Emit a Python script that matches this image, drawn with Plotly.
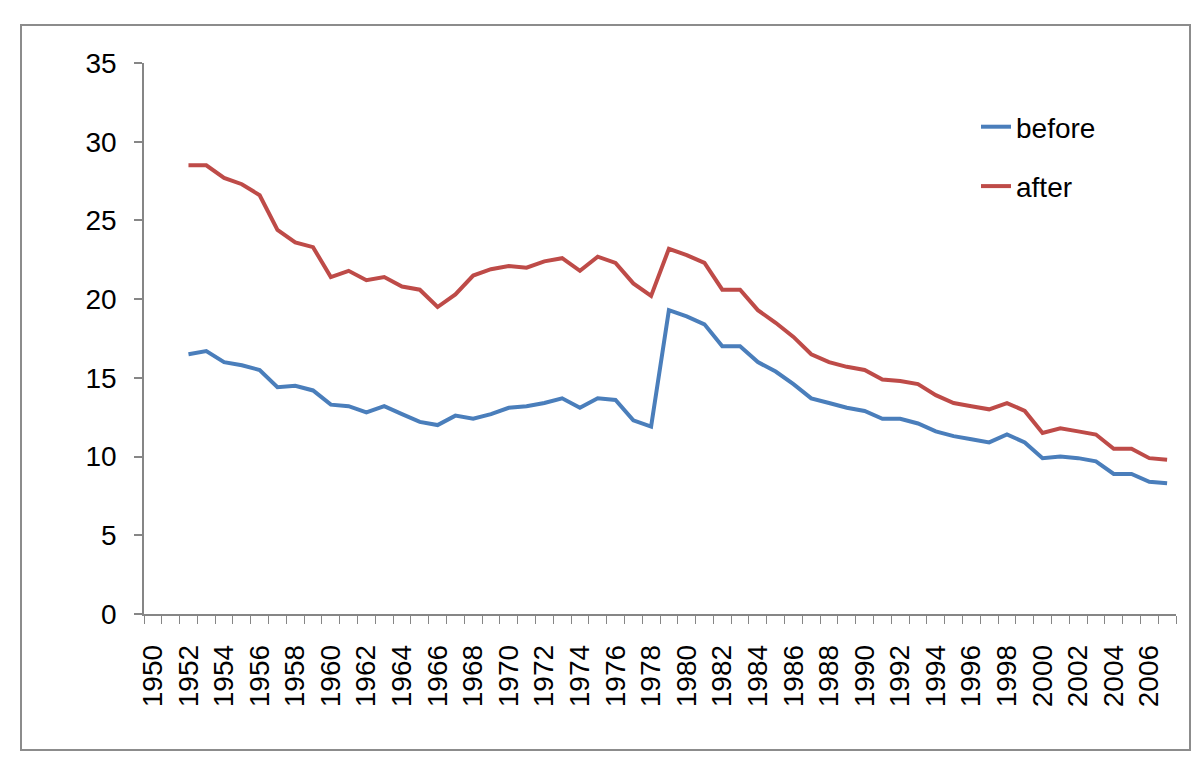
import plotly.graph_objects as go

years = list(range(1952, 2008))
before = [16.5, 16.7, 16.0, 15.8, 15.5, 14.4, 14.5, 14.2, 13.3, 13.2,
          12.8, 13.2, 12.7, 12.2, 12.0, 12.6, 12.4, 12.7, 13.1, 13.2,
          13.4, 13.7, 13.1, 13.7, 13.6, 12.3, 11.9, 19.3, 18.9, 18.4,
          17.0, 17.0, 16.0, 15.4, 14.6, 13.7, 13.4, 13.1, 12.9, 12.4,
          12.4, 12.1, 11.6, 11.3, 11.1, 10.9, 11.4, 10.9, 9.9, 10.0,
          9.9, 9.7, 8.9, 8.9, 8.4, 8.3]
after = [28.5, 28.5, 27.7, 27.3, 26.6, 24.4, 23.6, 23.3, 21.4, 21.8,
         21.2, 21.4, 20.8, 20.6, 19.5, 20.3, 21.5, 21.9, 22.1, 22.0,
         22.4, 22.6, 21.8, 22.7, 22.3, 21.0, 20.2, 23.2, 22.8, 22.3,
         20.6, 20.6, 19.3, 18.5, 17.6, 16.5, 16.0, 15.7, 15.5, 14.9,
         14.8, 14.6, 13.9, 13.4, 13.2, 13.0, 13.4, 12.9, 11.5, 11.8,
         11.6, 11.4, 10.5, 10.5, 9.9, 9.8]
tick_years = list(range(1950, 2007, 2))
y_ticks = [0, 5, 10, 15, 20, 25, 30, 35]

W, H = 1200, 757
L, R, T, B = 136, 1168, 55, 606
ml, mr, mt, mb = L, W - R, T, H - B
pw, ph = R - L, B - T

def px_x(x):
    return (x - L) / pw

def px_y(y):
    return (B - y) / ph

fig = go.Figure()
fig.add_trace(go.Scatter(x=years, y=before, name="before", mode="lines",
                         line=dict(color="#4A7EBB", width=4), legendgroup="a"))
fig.add_trace(go.Scatter(x=years, y=after, name="after", mode="lines",
                         line=dict(color="#BE4B48", width=4), legendgroup="b"))

axis_col = "#868686"
fig.update_layout(
    width=W, height=H,
    margin=dict(l=ml, r=mr, t=mt, b=mb),
    paper_bgcolor="white", plot_bgcolor="white",
    font=dict(family="Liberation Sans, Arial, sans-serif", size=28, color="black"),
    showlegend=True,
    legend=dict(x=px_x(968), y=px_y(94), xanchor="left", yanchor="top",
                bgcolor="rgba(0,0,0,0)", traceorder="grouped", tracegroupgap=20,
                font=dict(size=28)),
    xaxis=dict(range=[1949.5, 2007.5], tickmode="array", tickvals=tick_years,
               ticktext=[str(v) for v in tick_years], tickangle=-90,
               ticks="", showgrid=False, zeroline=False,
               showline=True, linecolor=axis_col, linewidth=1.5,
               ticklabelstandoff=18,
               minor=dict(tick0=1949.5, dtick=1, ticks="outside", ticklen=8,
                          tickcolor=axis_col, tickwidth=1, showgrid=False),
               tickfont=dict(size=28)),
    yaxis=dict(range=[0, 35], tickmode="array", tickvals=y_ticks,
               ticks="outside", ticklen=8, tickcolor=axis_col, tickwidth=1.5,
               showgrid=False, zeroline=False, showline=True,
               linecolor=axis_col, linewidth=1.5, ticklabelstandoff=12,
               tickfont=dict(size=28)),
    shapes=[dict(type="rect", xref="paper", yref="paper",
                 x0=px_x(13), x1=px_x(1182), y0=px_y(742), y1=px_y(17),
                 line=dict(color="#8c8c8c", width=2), fillcolor="rgba(0,0,0,0)",
                 layer="below")],
)

fig.write_html("out.html")
